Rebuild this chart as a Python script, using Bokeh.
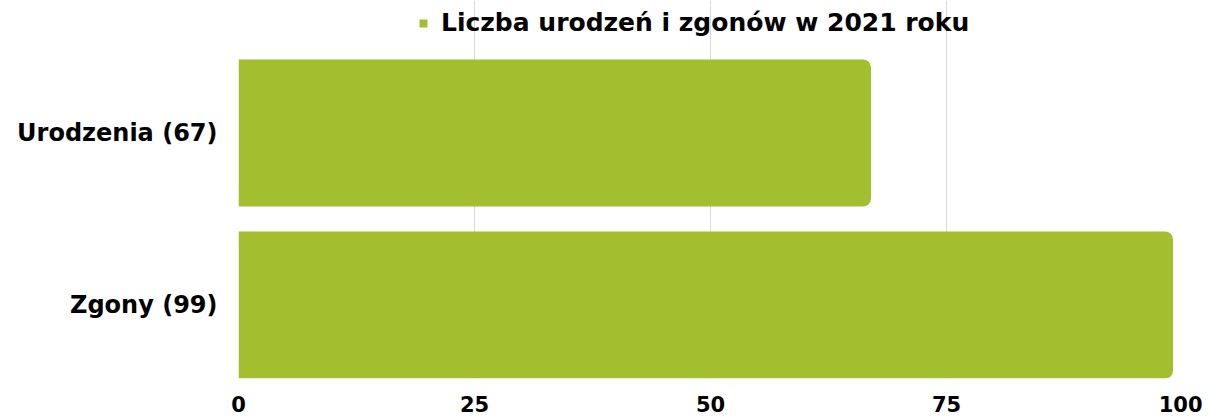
from bokeh.plotting import figure
from bokeh.models import Range1d, FixedTicker, Legend, LegendItem, ColumnDataSource
from bokeh.embed import file_html
from bokeh.resources import INLINE

categories = ["Urodzenia (67)", "Zgony (99)"]
values = [67, 99]
series_name = "Liczba urodzeń i zgonów w 2021 roku"
x_ticks = [0, 25, 50, 75, 100]

n = len(categories)
ypos = [n - i - 0.5 for i in range(n)]
bar_h = 0.855
pad = (1 - bar_h) / 2
FONT = "DejaVu Sans"

# frame: bar area 319px tall plus a 59px header band for the legend
bar_px = 319
head_px = 59
units_per_px = (n - 2 * pad) / bar_px
y_top = n - pad + head_px * units_per_px

src = ColumnDataSource(dict(y=ypos, v=values, cat=categories))

p = figure(output_backend="svg", toolbar_location=None,
           x_range=Range1d(0, 100), y_range=Range1d(pad, y_top),
           frame_width=944, frame_height=bar_px + head_px,
           min_border_left=238, min_border_right=20, min_border_top=0, min_border_bottom=42)
p.outline_line_color = None
p.background_fill_color = "white"
p.border_fill_color = "white"

r = p.hbar(y="y", right="v", left=0, height=bar_h, source=src,
           fill_color="#A3BE2F", line_color=None, border_radius=(0, 8, 8, 0))

p.xaxis.ticker = FixedTicker(ticks=x_ticks)
p.xaxis.axis_line_color = None
p.xaxis.major_tick_line_color = None
p.xaxis.minor_tick_line_color = None
p.xaxis.major_label_text_font = FONT
p.xaxis.major_label_text_font_style = "bold"
p.xaxis.major_label_text_font_size = "21px"
p.xaxis.major_label_text_color = "black"
p.xaxis.major_label_standoff = 11

p.yaxis.ticker = FixedTicker(ticks=ypos)
p.yaxis.major_label_overrides = {float(y): c for y, c in zip(ypos, categories)}
p.yaxis.axis_line_color = None
p.yaxis.major_tick_line_color = None
p.yaxis.minor_tick_line_color = None
p.yaxis.major_label_text_font = FONT
p.yaxis.major_label_text_font_style = "bold"
p.yaxis.major_label_text_font_size = "24px"
p.yaxis.major_label_text_color = "black"
p.yaxis.major_label_standoff = 15

p.xgrid.ticker = FixedTicker(ticks=x_ticks)
p.xgrid.grid_line_color = "#d9d9d9"
p.xgrid.grid_line_width = 1
p.xgrid.bounds = (pad, n - pad)
p.ygrid.grid_line_color = None

legend = Legend(items=[LegendItem(label=series_name, renderers=[r])],
                orientation="horizontal", location=(180, 341),
                glyph_width=10, glyph_height=10, label_standoff=13,
                label_text_font=FONT, label_text_font_style="bold",
                label_text_font_size="25px", label_text_color="black",
                border_line_color=None, background_fill_alpha=0,
                padding=0, margin=0, spacing=0)
p.add_layout(legend, "center")

open("out.html", "w").write(file_html(p, INLINE))
